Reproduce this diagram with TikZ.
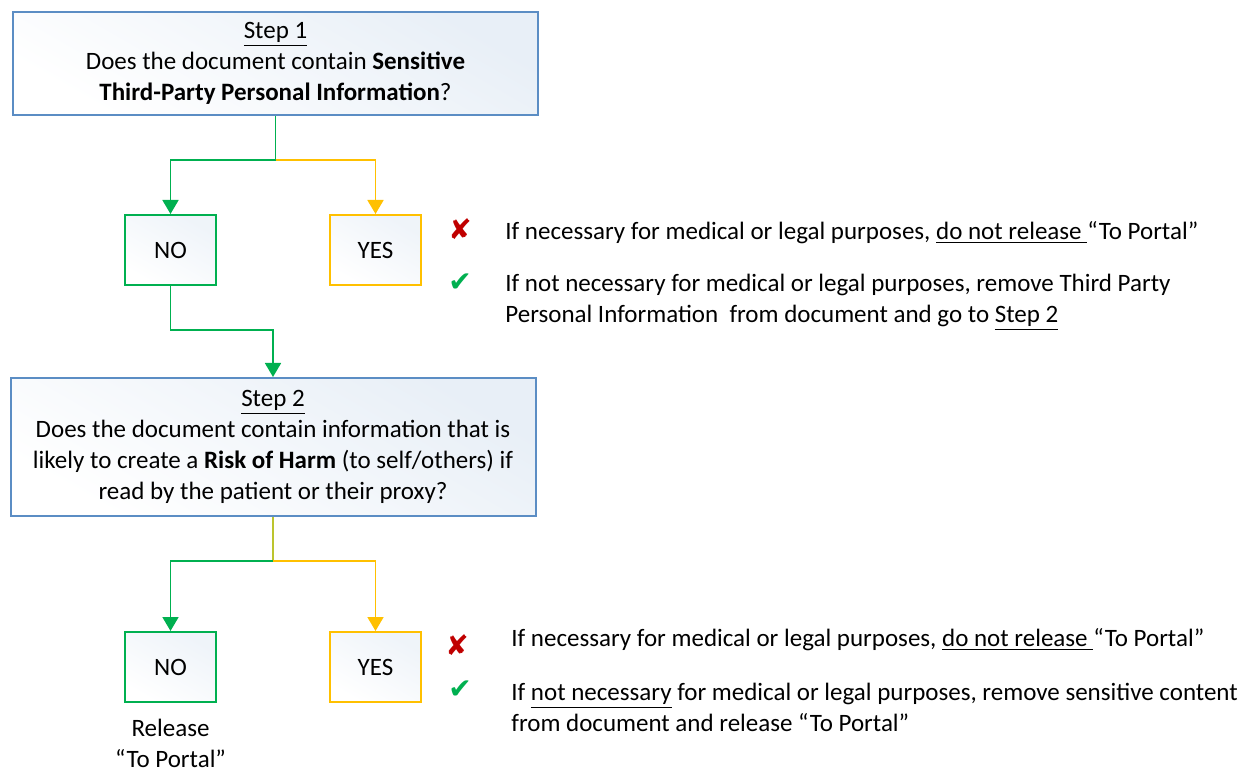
\documentclass[tikz,border=0pt]{standalone}
\usepackage{fontspec}
\setmainfont{Carlito}
\newfontfamily\symfont{DejaVu Sans}
\usetikzlibrary{positioning,arrows.meta,calc}
\definecolor{boxblue}{HTML}{5B8DC4}
\definecolor{okgreen}{HTML}{00B050}
\definecolor{warnyel}{HTML}{FFC000}
\definecolor{crossred}{HTML}{C00000}
\definecolor{stemolive}{HTML}{BCC42E}

\begin{document}
\begin{tikzpicture}[x=0.5pt,y=-0.5pt,font=\fontsize{12.5}{15.5}\selectfont,
    q/.style={draw=boxblue,line width=1pt,left color=boxblue!14,right color=white,shading angle=-30,
      minimum width=262.5pt,align=center,inner sep=0pt},
    ans/.style={line width=1pt,left color=boxblue!10,right color=white,shading angle=-30,
      minimum width=45.5pt,minimum height=35pt,inner sep=0pt},
    note/.style={anchor=west,align=left,inner sep=0pt},
    icon/.style={font=\symfont\fontsize{14}{14}\selectfont,inner sep=0pt},
    lnk/.style={line width=0.9pt},
    tip/.style={-{Triangle[width=8pt,length=7pt]}}]
  \useasboundingbox (0,0) rectangle (1246,774);
  % step 1
  \node[q,minimum height=51.5pt] (s1) at (275.5,63.5) {\underline{Step 1}\\Does the document contain \textbf{Sensitive}\\\textbf{Third-Party Personal Information}?};
  \node[ans,draw=okgreen] (no1) at (170.5,250) {NO};
  \node[ans,draw=warnyel] (yes1) at (375.5,250) {YES};
  \coordinate (j1) at (275.5,160);
  \draw[lnk,okgreen] (s1.south) -- (j1);
  \draw[lnk,okgreen,tip] (j1) -| (no1.north);
  \draw[lnk,warnyel,tip] (j1) -| (yes1.north);
  \node[icon,text=crossred] (x1) at (460,229) {✘};
  \node[icon,text=okgreen] (v1) at (460,283) {✔};
  \node[note] (n1) at (505,233) {If necessary for medical or legal purposes, \underline{do not release\ }“To Portal”};
  \node[note] (n2) at (505,302) {If not necessary for medical or legal purposes, remove Third Party\\Personal Information\ \ from document and go to \underline{Step 2}};
  % step 2
  \node[q,minimum height=69pt] (s2) at (273,447) {\underline{Step 2}\\Does the document contain information that is\\likely to create a \textbf{Risk of Harm} (to self/others) if\\read by the patient or their proxy?};
  \coordinate (j2) at (170.5,330);
  \draw[lnk,okgreen,tip] (no1.south) -- (j2) -| (s2.north);
  \node[ans,draw=okgreen] (no2) at (170.5,667) {NO};
  \node[ans,draw=warnyel] (yes2) at (375.5,667) {YES};
  \coordinate (j3) at (273,561);
  \draw[lnk,stemolive] (s2.south) -- (j3);
  \draw[lnk,okgreen,tip] (j3) -| (no2.north);
  \draw[lnk,warnyel,tip] (j3) -| (yes2.north);
  \node[align=center,inner sep=0pt] (rel) at (170.5,743) {Release\\“To Portal”};
  \node[icon,text=crossred] (x2) at (457,645) {✘};
  \node[icon,text=okgreen] (v2) at (460,690) {✔};
  \node[note] (n3) at (511,640) {If necessary for medical or legal purposes, \underline{do not release\ }“To Portal”};
  \node[note] (n4) at (511,707) {If \underline{not necessary} for medical or legal purposes, remove sensitive content\\from document and release “To Portal”};
\end{tikzpicture}
\end{document}
